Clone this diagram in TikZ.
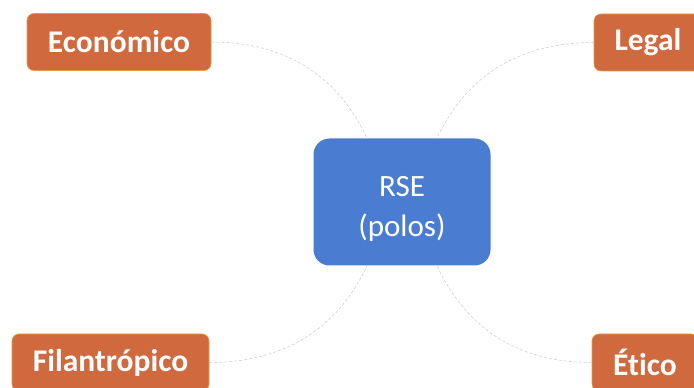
\documentclass[tikz,border=0pt]{standalone}
\usepackage{fontspec}
\setmainfont{Carlito}[Ligatures=NoCommon]
\usetikzlibrary{positioning}
\definecolor{polebox}{HTML}{D0693E}
\definecolor{poleedge}{HTML}{E39A45}
\definecolor{corebox}{HTML}{4A7CD2}
\definecolor{linkgray}{HTML}{C8C8C8}

\begin{document}
\begin{tikzpicture}[
  x=1pt, y=1pt,
  pole/.style={rectangle, rounded corners=7pt, fill=polebox, draw=poleedge,
               line width=0.6pt, minimum height=57pt, inner sep=0pt,
               font=\fontsize{31.5}{31.5}\selectfont\bfseries, text=white},
  core/.style={rectangle, rounded corners=16pt, fill=corebox,
               minimum width=177pt, minimum height=127pt, align=center,
               font=\fontsize{31}{41}\selectfont, text=white},
  link/.style={densely dashed, color=linkgray, line width=0.5pt},
]
  \useasboundingbox (0,0) rectangle (694,388);
  \clip (0,0) rectangle (694,388);

  \node[core] (rse) at (402,186) {\rule{0pt}{34pt}RSE\\(polos)};

  % the four poles
  \node[pole, minimum width=184pt] (econ) at (119,346) {Económico};
  \node[pole, minimum width=108pt] (legal) at (648,345.5) {Legal};
  \node[pole, minimum width=197pt] (filan) at (110.5,25.5) {Filantrópico};
  \node[pole, minimum width=106pt] (etico) at (645,25.5) {Ético};

  \draw[link] (econ.east) to[out=0, in=115] ([xshift=-35pt]rse.north);
  \draw[link] (legal.west) to[out=180, in=65] ([xshift=35pt]rse.north);
  \draw[link] (filan.east) to[out=0, in=245] ([xshift=-35pt]rse.south);
  \draw[link] (etico.west) to[out=180, in=295] ([xshift=35pt]rse.south);
\end{tikzpicture}
\end{document}
